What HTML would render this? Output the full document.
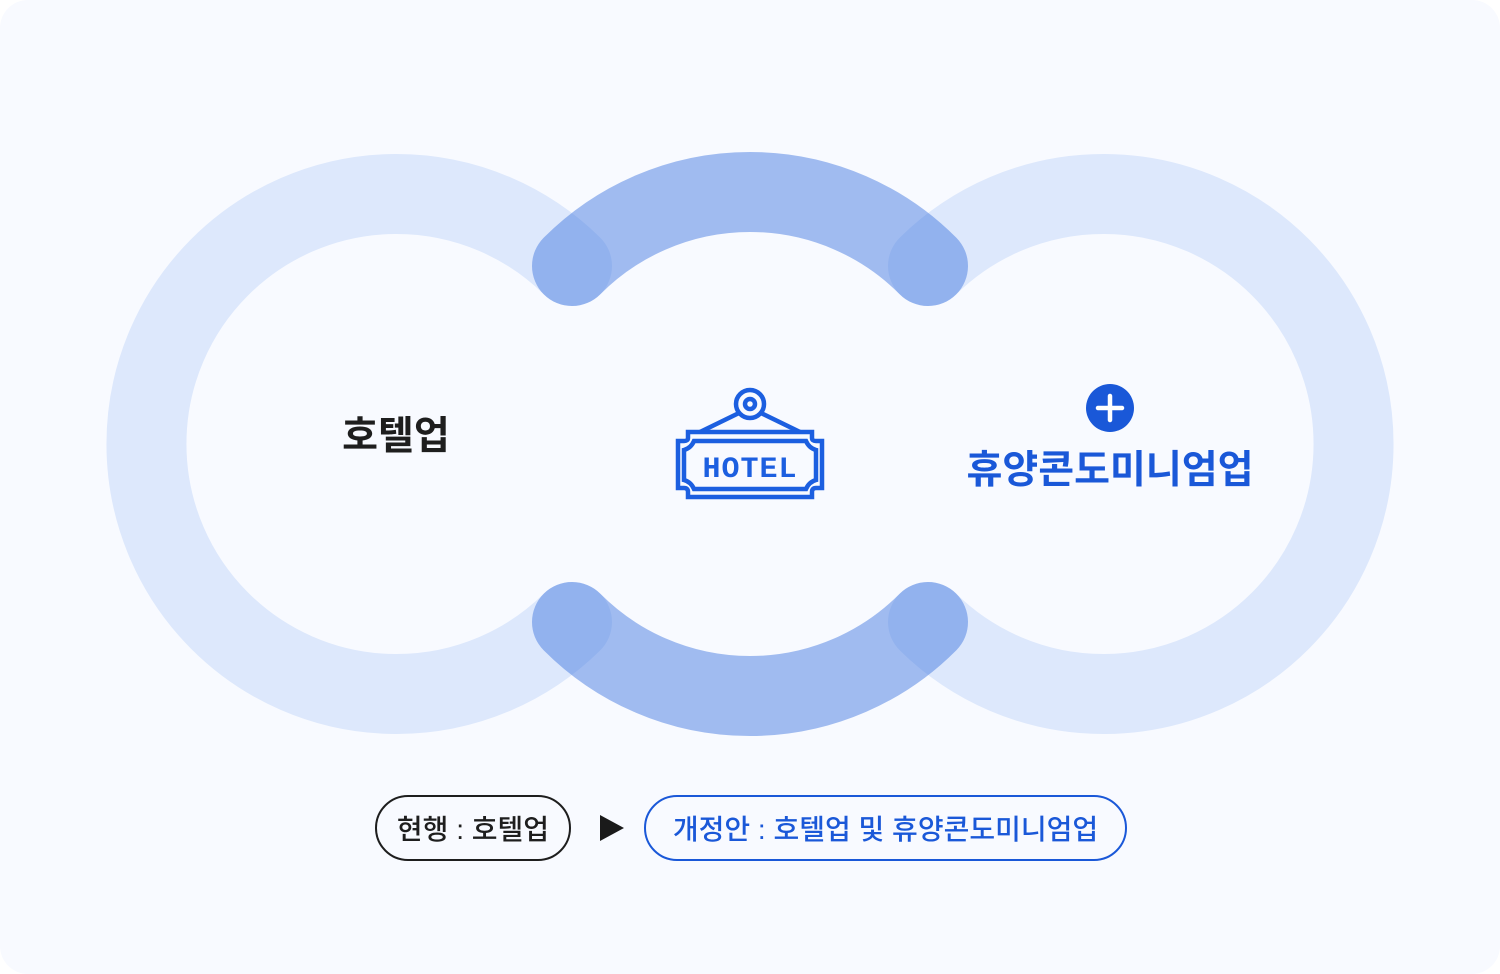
<!DOCTYPE html>
<html><head><meta charset="utf-8"><style>
html,body{margin:0;padding:0;background:#fff;}
body{width:1500px;height:974px;position:relative;overflow:hidden;font-family:"Liberation Sans","Noto Sans CJK KR",sans-serif;}
.bg{position:absolute;left:0;top:0;width:1500px;height:974px;background:#f8faff;border-radius:28px;}
.t{position:absolute;white-space:nowrap;}
.pill{position:absolute;box-sizing:border-box;border-radius:34px;display:flex;align-items:center;justify-content:center;font-size:28px;font-weight:500;}
</style></head><body>
<div class="bg"></div>
<svg width="1500" height="974" style="position:absolute;left:0;top:0">
  <g fill="none" stroke="#dde8fc" stroke-width="80" stroke-linecap="round">
    <path d="M 572 266 A 250 250 0 1 0 572 622"/>
    <path d="M 928 266 A 250 250 0 1 1 928 622"/>
  </g>
  <g fill="none" stroke="rgb(65,119,224)" stroke-opacity="0.48" stroke-width="80" stroke-linecap="round">
    <path d="M 572 266 A 251 251 0 0 1 928 266"/>
    <path d="M 572 622 A 251 251 0 0 0 928 622"/>
  </g>
  <!-- hotel icon -->
  <g fill="none" stroke="#1c5fe0" stroke-width="4.5" stroke-linejoin="miter">
    <circle cx="750" cy="404" r="14"/>
    <circle cx="750" cy="404" r="5"/>
    <line x1="739" y1="413" x2="700" y2="432"/>
    <line x1="761" y1="413" x2="800" y2="432"/>
    <path d="M688 432 H812 V438 Q812 441 816 441 H822 V488 H816 Q812 488 812 492 V497 H688 V492 Q688 488 684 488 H678 V441 H684 Q688 441 688 438 Z"/>
    <path d="M694 441 H806 Q809 448 816 450 V480 Q809 482 806 489 H694 Q691 482 684 480 V450 Q691 448 694 441 Z"/>
  </g>
  <text x="750" y="477" text-anchor="middle" font-family="Liberation Mono, monospace" font-weight="bold" font-size="30" fill="#1c5fe0" letter-spacing="1">HOTEL</text>
  <circle cx="1110" cy="408" r="24" fill="#1a58d8"/>
  <path d="M1110 396 V420 M1098 408 H1122" stroke="#fff" stroke-width="4.5" stroke-linecap="round"/>
  <polygon points="600,815 624,828 600,841" fill="#1a1a1a"/>
</svg>
<div class="t" style="left:296px;top:413px;width:200px;text-align:center;font-size:39px;font-weight:bold;color:#1e1e1e;line-height:48px;">호텔업</div>
<div class="t" style="left:925px;top:447px;width:370px;text-align:center;font-size:39px;font-weight:bold;color:#1a58d8;line-height:48px;">휴양콘도미니엄업</div>
<div class="pill" style="left:375px;top:795px;width:196px;height:66px;border:2px solid #1e1e1e;color:#1e1e1e;">현행 : 호텔업</div>
<div class="pill" style="left:644px;top:795px;width:483px;height:66px;border:2px solid #1a58d8;color:#1a58d8;">개정안 : 호텔업 및 휴양콘도미니엄업</div>
</body></html>
